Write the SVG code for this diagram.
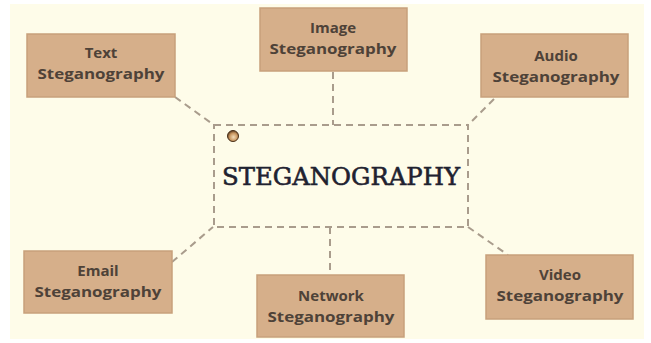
<svg xmlns="http://www.w3.org/2000/svg" width="651" height="343" viewBox="0 0 651 343">
<style>
.box{fill:#D6AF8A;stroke:#C7A07B;stroke-width:1.5}
.lbl{font-family:"Open Sans","Liberation Sans",sans-serif;font-weight:700;font-size:15px;fill:#4E4238;text-anchor:middle}
.dash{stroke:#A99C8C;stroke-width:2;stroke-dasharray:7 5;fill:none}
</style>
<defs>
<radialGradient id="bead" cx="0.55" cy="0.6" r="0.6">
<stop offset="0" stop-color="#F3DDB8"/>
<stop offset="0.6" stop-color="#C8955E"/>
<stop offset="1" stop-color="#5A3A1E"/>
</radialGradient>
</defs>
<rect width="651" height="343" fill="#FFFFFF"/>
<rect x="10" y="4" width="634" height="335" fill="#FEFCE9"/>
<g id="connectors">
<line class="dash" x1="175" y1="97" x2="214" y2="125"/>
<line class="dash" x1="333" y1="72" x2="333" y2="125"/>
<line class="dash" x1="494" y1="99" x2="468" y2="125"/>
<line class="dash" x1="172" y1="262" x2="213" y2="227"/>
<line class="dash" x1="330" y1="227" x2="330" y2="275"/>
<line class="dash" x1="468" y1="227" x2="508" y2="255"/>
</g>
<g id="center">
<rect x="214" y="125" width="254" height="102" fill="#FDF3C9" class="dash"/>
<circle cx="233" cy="136" r="5.5" fill="url(#bead)" stroke="#4A3018" stroke-width="1"/>
<text x="341" y="185" font-family="'DejaVu Serif',serif" font-size="25" fill="#1F2230" stroke="#1F2230" stroke-width="0.6" text-anchor="middle" textLength="238" lengthAdjust="spacingAndGlyphs">STEGANOGRAPHY</text>
</g>
<g id="text-steg">
<rect class="box" x="27" y="34" width="148" height="63"/>
<text class="lbl" x="101" y="58">Text</text>
<text class="lbl" x="101" y="79" textLength="127" lengthAdjust="spacingAndGlyphs">Steganography</text>
</g>
<g id="image-steg">
<rect class="box" x="260" y="8" width="147" height="63"/>
<text class="lbl" x="333" y="33">Image</text>
<text class="lbl" x="333" y="54" textLength="127" lengthAdjust="spacingAndGlyphs">Steganography</text>
</g>
<g id="audio-steg">
<rect class="box" x="481" y="34" width="147" height="63"/>
<text class="lbl" x="556" y="61">Audio</text>
<text class="lbl" x="556" y="82" textLength="127" lengthAdjust="spacingAndGlyphs">Steganography</text>
</g>
<g id="email-steg">
<rect class="box" x="24" y="251" width="148" height="62"/>
<text class="lbl" x="98" y="276">Email</text>
<text class="lbl" x="98" y="297" textLength="127" lengthAdjust="spacingAndGlyphs">Steganography</text>
</g>
<g id="network-steg">
<rect class="box" x="257" y="275" width="147" height="62"/>
<text class="lbl" x="331" y="301">Network</text>
<text class="lbl" x="331" y="322" textLength="127" lengthAdjust="spacingAndGlyphs">Steganography</text>
</g>
<g id="video-steg">
<rect class="box" x="486" y="255" width="147" height="64"/>
<text class="lbl" x="560" y="280">Video</text>
<text class="lbl" x="560" y="301" textLength="127" lengthAdjust="spacingAndGlyphs">Steganography</text>
</g>
</svg>
